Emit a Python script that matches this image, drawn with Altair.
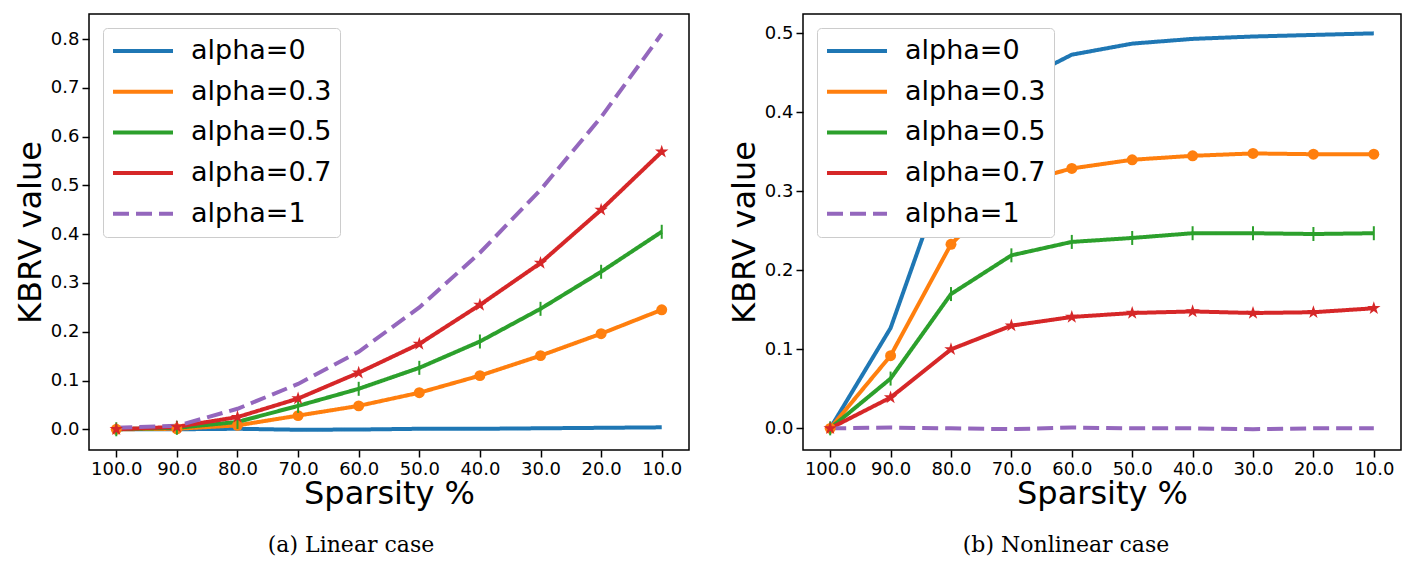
import math
import altair as alt
import pandas as pd

sparsity = [100.0, 90.0, 80.0, 70.0, 60.0, 50.0, 40.0, 30.0, 20.0, 10.0]
series_names = ["alpha=0", "alpha=0.3", "alpha=0.5", "alpha=0.7", "alpha=1"]
colors = ["#1f77b4", "#ff7f0e", "#2ca02c", "#d62728", "#9467bd"]
dash_styles = [[1, 0], [1, 0], [1, 0], [1, 0], [16, 7]]

lin_a0 = [0.000, 0.000, 0.001, -0.001, -0.0005, 0.001, 0.001, 0.002, 0.003, 0.004]
lin_a03 = [0.000, 0.001, 0.008, 0.028, 0.048, 0.075, 0.110, 0.151, 0.196, 0.245]
lin_a05 = [0.000, 0.003, 0.015, 0.048, 0.083, 0.126, 0.180, 0.247, 0.323, 0.405]
lin_a07 = [0.000, 0.005, 0.025, 0.063, 0.116, 0.175, 0.255, 0.341, 0.450, 0.569]
lin_a1 = [0.003, 0.007, 0.042, 0.093, 0.159, 0.250, 0.362, 0.491, 0.640, 0.811]

non_a0 = [0.000, 0.127, 0.343, 0.434, 0.473, 0.487, 0.493, 0.496, 0.498, 0.500]
non_a03 = [0.000, 0.092, 0.233, 0.308, 0.329, 0.340, 0.345, 0.348, 0.347, 0.347]
non_a05 = [0.000, 0.063, 0.170, 0.219, 0.236, 0.241, 0.247, 0.247, 0.246, 0.247]
non_a07 = [0.000, 0.039, 0.100, 0.130, 0.141, 0.146, 0.148, 0.146, 0.147, 0.152]
non_a1 = [0.000, 0.001, 0.000, -0.001, 0.001, 0.000, 0.000, -0.001, 0.000, 0.000]

y_ticks_lin = [0.0, 0.1, 0.2, 0.3, 0.4, 0.5, 0.6, 0.7, 0.8]
y_ticks_non = [0.0, 0.1, 0.2, 0.3, 0.4, 0.5]
captions = ["(a) Linear case", "(b) Nonlinear case"]

# five-pointed star as an SVG path (Vega has no built-in "star" symbol)
_pts = []
for k in range(10):
    ang = -math.pi / 2 + k * math.pi / 5
    rad = 1.0 if k % 2 == 0 else 0.382
    _pts.append(f"{rad*math.cos(ang):.4f},{rad*math.sin(ang):.4f}")
STAR = "M" + "L".join(_pts) + "Z"

# marker style per series (index into series_names)
marker_styles = {
    1: dict(shape="circle", filled=True, size=120, opacity=1, color=colors[1]),
    2: dict(shape="stroke", angle=90, filled=False, size=196, strokeWidth=2, opacity=1, color=colors[2]),
    3: dict(shape=STAR, filled=True, size=200, opacity=1, color=colors[3]),
}


def panel(series_vals, y_domain, y_ticks, caption, width, dx):
    rows = []
    for name, vals in zip(series_names, series_vals):
        for s, v in zip(sparsity, vals):
            rows.append({"sparsity": s, "value": v, "series": name})
    df = pd.DataFrame(rows)
    x = alt.X("sparsity:Q", scale=alt.Scale(domain=[104.5, 5.5], nice=False, zero=False),
              axis=alt.Axis(values=sparsity, format=".1f", title="Sparsity %"))
    y = alt.Y("value:Q", scale=alt.Scale(domain=y_domain, nice=False, zero=False),
              axis=alt.Axis(values=y_ticks, format=".1f", title="KBRV value"))
    leg = alt.Legend(
        title=None,
        orient="top-left",
        offset=14,
        padding=8,
        fillColor="white",
        strokeColor="#cccccc",
        cornerRadius=4,
        labelFont="DejaVu Sans",
        labelFontSize=27,
        labelColor="black",
        symbolType="stroke",
        symbolStrokeWidth=4,
        symbolSize=3600,
        clipHeight=30,
        rowPadding=10.7,
        labelOffset=16,
        labelLimit=300,
    )
    lines = alt.Chart(df).mark_line(strokeWidth=4).encode(
        x=x,
        y=y,
        color=alt.Color("series:N", scale=alt.Scale(domain=series_names, range=colors), legend=leg),
        strokeDash=alt.StrokeDash("series:N", scale=alt.Scale(domain=series_names, range=dash_styles), legend=leg),
    )
    layers = [lines]
    for idx, style in marker_styles.items():
        mdf = pd.DataFrame({"sparsity": sparsity, "value": series_vals[idx]})
        layers.append(alt.Chart(mdf).mark_point(**style).encode(x=x, y=y))
    return alt.layer(*layers).properties(
        width=width,
        height=436,
        title=alt.TitleParams(
            text=caption,
            orient="bottom",
            font="DejaVu Serif",
            fontSize=22,
            fontWeight="normal",
            color="black",
            offset=26,
            dx=dx,
        ),
    )


left = panel([lin_a0, lin_a03, lin_a05, lin_a07, lin_a1], [-0.0425, 0.8516], y_ticks_lin, captions[0], 600, -38)
right = panel([non_a0, non_a03, non_a05, non_a07, non_a1], [-0.0274, 0.5245], y_ticks_non, captions[1], 598, -36)

chart = (
    alt.hconcat(left, right, spacing=37)
    .resolve_scale(color="independent", strokeDash="independent")
    .resolve_legend(color="independent", strokeDash="independent")
    .configure_view(stroke="black", strokeWidth=1.5)
    .configure_axis(
        labelFont="DejaVu Sans",
        labelFontSize=18,
        labelColor="black",
        titleFont="DejaVu Sans",
        titleFontSize=32,
        titleFontWeight="normal",
        titleColor="black",
        tickColor="black",
        tickWidth=1.5,
        tickSize=7,
        labelPadding=3,
        domain=False,
        grid=False,
        labelFlush=False,
    )
    .configure_axisX(titlePadding=0)
    .configure_axisY(titlePadding=3)
)

chart.save("out.html", embed_options={"renderer": "svg", "actions": False})
